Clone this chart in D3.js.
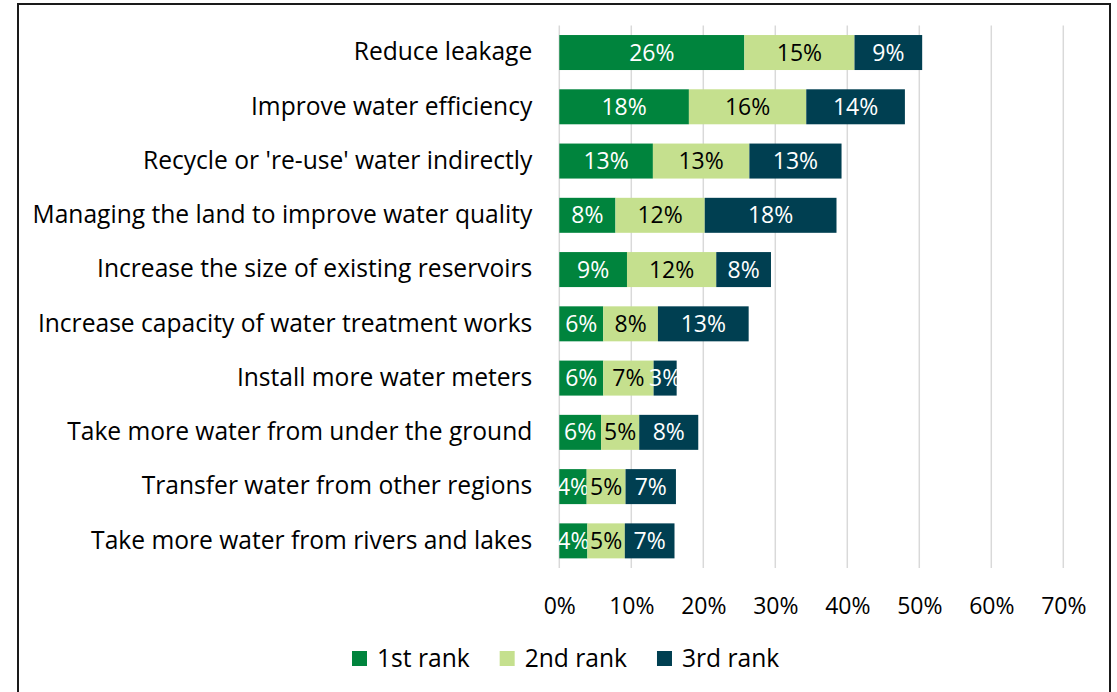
<!DOCTYPE html>
<html>
<head>
<meta charset="utf-8">
<script src="https://cdn.jsdelivr.net/npm/d3@7"></script>
<style>
  body { margin: 0; background: #fff; }
  text { font-family: "Open Sans", sans-serif; }
</style>
</head>
<body>
<div id="svganchor"></div>
<script>
let width = 1117, height = 692;

// categories, top to bottom
let categories = [
    "Reduce leakage",
    "Improve water efficiency",
    "Recycle or 're-use' water indirectly",
    "Managing the land to improve water quality",
    "Increase the size of existing reservoirs",
    "Increase capacity of water treatment works",
    "Install more water meters",
    "Take more water from under the ground",
    "Transfer water from other regions",
    "Take more water from rivers and lakes"
];

let seriesNames = ["1st rank", "2nd rank", "3rd rank"];
let rank1 = [0.257, 0.180, 0.130, 0.078, 0.094, 0.061, 0.061, 0.058, 0.038, 0.039];
let rank2 = [0.153, 0.163, 0.134, 0.124, 0.124, 0.076, 0.070, 0.053, 0.054, 0.052];
let rank3 = [0.094, 0.137, 0.128, 0.183, 0.076, 0.126, 0.032, 0.082, 0.070, 0.069];
let xTicks = [0, 0.1, 0.2, 0.3, 0.4, 0.5, 0.6, 0.7];

let colors = ["#00843d", "#c5e08e", "#003f51"];
let labelColors = ["#ffffff", "#000000", "#ffffff"];

let numSize = 23, textSize = 24.6;

let margin = ({top: 25.4, right: 53.7, bottom: 124, left: 559.3});

let xScale = d3.scaleLinear()
    .domain([0, 0.7])
    .range([margin.left, width - margin.right]);

let yScale = d3.scaleBand()
    .domain(categories)
    .range([margin.top, height - margin.bottom])
    .paddingInner(0.355)
    .paddingOuter(0.1775);

let formatPct = d3.format(".0%");

let svg = d3.select("#svganchor")
    .append("svg")
    .attr("width", width)
    .attr("height", height);

svg.append("rect")
    .attr("width", width)
    .attr("height", height)
    .attr("fill", "#fff");

// frame
svg.append("rect")
    .attr("x", 18)
    .attr("y", 4)
    .attr("width", 1092)
    .attr("height", 700)
    .attr("fill", "none")
    .attr("stroke", "#1a1a1a")
    .attr("stroke-width", 2);

// gridlines
svg.selectAll(".grid")
    .data(xTicks)
    .enter()
    .append("line")
    .attr("class", "grid")
    .attr("x1", d => xScale(d))
    .attr("x2", d => xScale(d))
    .attr("y1", margin.top)
    .attr("y2", height - margin.bottom)
    .attr("stroke", "#d9d9d9")
    .attr("stroke-width", 1.5);

let dataSet = categories.map(function(c, i) {
    return {category: c, r1: rank1[i], r2: rank2[i], r3: rank3[i]};
});

let stack = d3.stack().keys(["r1", "r2", "r3"]);
let series = stack(dataSet);

let groups = svg.selectAll(".series")
    .data(series)
    .enter()
    .append("g")
    .attr("class", "series")
    .attr("fill", (d, i) => colors[i]);

groups.selectAll("rect")
    .data(d => d)
    .enter()
    .append("rect")
    .attr("x", d => xScale(d[0]))
    .attr("y", d => yScale(d.data.category))
    .attr("width", d => xScale(d[1]) - xScale(d[0]))
    .attr("height", yScale.bandwidth());

groups.selectAll("text")
    .data(d => d)
    .enter()
    .append("text")
    .attr("x", d => (xScale(d[0]) + xScale(d[1])) / 2)
    .attr("y", d => yScale(d.data.category) + yScale.bandwidth() / 2)
    .attr("dy", "0.35em")
    .attr("text-anchor", "middle")
    .attr("font-size", numSize)
    .attr("fill", function() { return labelColors[series.indexOf(d3.select(this.parentNode).datum())]; })
    .text(d => formatPct(d[1] - d[0]));

// category labels
let yAxis = d3.axisLeft(yScale)
    .tickSize(0)
    .tickPadding(27);

let gY = svg.append("g")
    .attr("transform", "translate(" + margin.left + ",0)")
    .call(yAxis);
gY.select(".domain").remove();
gY.selectAll("text")
    .attr("font-family", "'Open Sans', sans-serif")
    .attr("font-size", textSize)
    .attr("fill", "#000");

// x axis labels
let xAxis = d3.axisBottom(xScale)
    .tickValues(xTicks)
    .tickFormat(formatPct)
    .tickSize(0)
    .tickPadding(0);

let gX = svg.append("g")
    .attr("transform", "translate(0,606)")
    .call(xAxis);
gX.select(".domain").remove();
gX.selectAll("text")
    .attr("dy", "0.35em")
    .attr("font-family", "'Open Sans', sans-serif")
    .attr("font-size", numSize)
    .attr("fill", "#000");

// legend
let legend = svg.append("g");
let legendItems = legend.selectAll(".legendItem")
    .data(seriesNames)
    .enter()
    .append("g")
    .attr("class", "legendItem");

legendItems.append("rect")
    .attr("width", 15)
    .attr("height", 15)
    .attr("y", 651)
    .attr("fill", (d, i) => colors[i]);

legendItems.append("text")
    .attr("x", 25)
    .attr("y", 658.5)
    .attr("dy", "0.35em")
    .attr("font-size", textSize)
    .attr("fill", "#000")
    .text(d => d);

let legendX = 352;
legendItems.each(function() {
    let g = d3.select(this);
    g.attr("transform", "translate(" + legendX + ",0)");
    legendX += 25 + g.select("text").node().getComputedTextLength() + 30;
});
</script>
</body>
</html>
